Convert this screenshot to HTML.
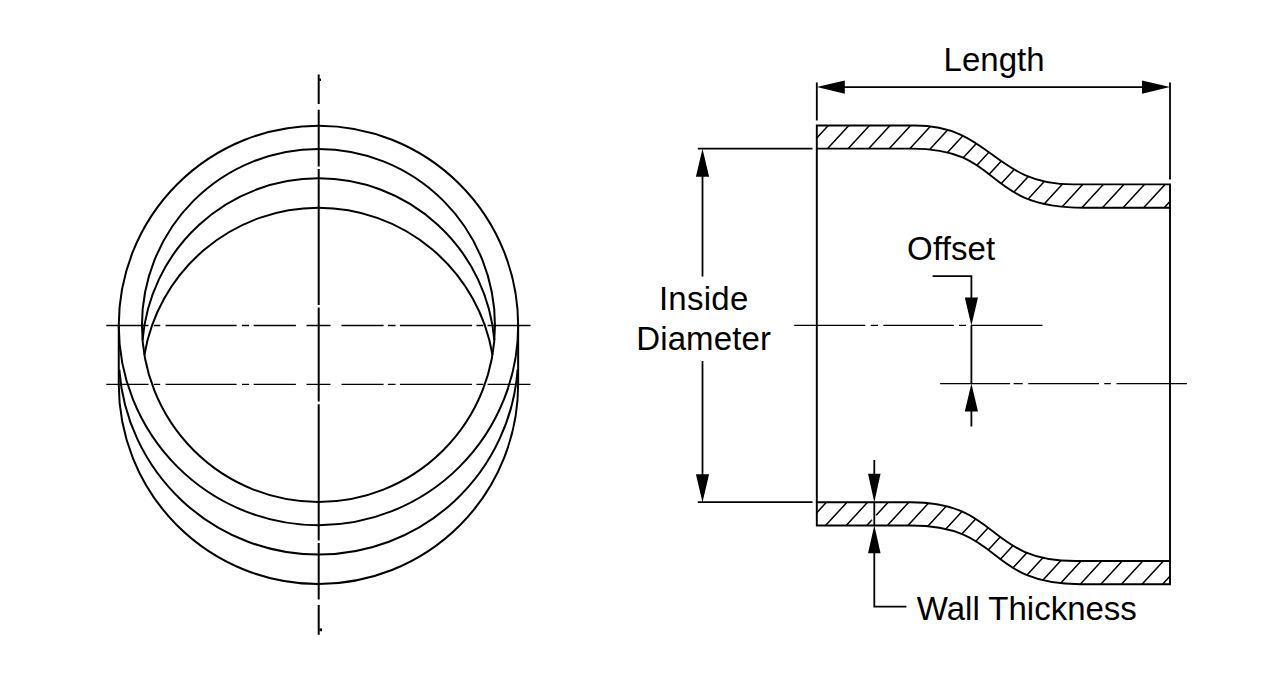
<!DOCTYPE html>
<html><head><meta charset="utf-8"><style>
html,body{margin:0;padding:0;background:#fff;}
svg{display:block;}
text{font-family:"Liberation Sans",sans-serif;}
</style></head><body>
<svg width="1280" height="680" viewBox="0 0 1280 680">
<defs><clipPath id="w0"><path d="M816.8,125.5 L914.82,125.5 C991.9300000000001,125.5 992.66,184.4 1073.02,184.4 L1170.0,184.4 L1170.0,207.7 L1084.08,207.7 C980.17,207.7 1005.38,148.67 911.61,148.67 L816.8,148.67 Z"/></clipPath><clipPath id="w1"><path d="M816.8,502.27 L911.23,502.27 C1000.78,502.27 985.36,560.97 1075.73,560.97 L1170.0,560.97 L1170.0,584.2 L1080.5,584.2 C984.16,584.2 1005.23,525.5 910.67,525.5 L816.8,525.5 Z"/></clipPath></defs>
<rect width="1280" height="680" fill="#fff"/>
<circle cx="318.45" cy="325.45" r="199.7" fill="none" stroke="#000" stroke-width="2.0"/>
<circle cx="318.45" cy="325.45" r="176.5" fill="none" stroke="#000" stroke-width="2.0"/>
<path d="M118.75,384.3 A199.7,199.7 0 0 0 518.15,384.3" fill="none" stroke="#000" stroke-width="2.0"/>
<path d="M118.75,325.45 L118.75,384.3 M518.15,325.45 L518.15,384.3" fill="none" stroke="#000" stroke-width="2.0"/>
<path d="M144.42,354.88 A176.5,176.5 0 0 1 492.48,354.88" fill="none" stroke="#000" stroke-width="2.0"/>
<path d="M142.56,340.16 A176.5,176.5 0 0 1 494.34,340.16" fill="none" stroke="#000" stroke-width="2.0"/>
<path d="M119.29,369.59 A199.7,199.7 0 0 0 517.61,369.59" fill="none" stroke="#000" stroke-width="2.0"/>
<path d="M106.3,325.5 L148.5,325.5 M153.9,325.5 L160.2,325.5 M165.6,325.5 L236.6,325.5 M242,325.5 L249.1,325.5 M253.6,325.5 L295.9,325.5 M306.5,325.5 L330.5,325.5 M341.5,325.5 L383.6,325.5 M387.9,325.5 L395.6,325.5 M399.9,325.5 L472.1,325.5 M476.4,325.5 L483.3,325.5 M487.6,325.5 L530.5,325.5" fill="none" stroke="#000" stroke-width="1.35"/>
<path d="M106.3,384.3 L148.5,384.3 M153.9,384.3 L160.2,384.3 M165.6,384.3 L236.6,384.3 M242,384.3 L249.1,384.3 M253.6,384.3 L295.9,384.3 M306.5,384.3 L330.5,384.3 M341.5,384.3 L383.6,384.3 M387.9,384.3 L395.6,384.3 M399.9,384.3 L472.1,384.3 M476.4,384.3 L483.3,384.3 M487.6,384.3 L530.5,384.3" fill="none" stroke="#000" stroke-width="1.35"/>
<path d="M318.7,74.4 L318.7,104 M318.7,109.7 L318.7,166.5 M318.7,169 L318.7,304.9 M318.7,307.5 L318.7,401.6 M318.7,404.2 L318.7,540.4 M318.7,543 L318.7,599.5 M318.7,604.9 L318.7,634.7" fill="none" stroke="#000" stroke-width="2.0"/>
<rect x="319.2" y="78.6" width="1.8" height="2.4" fill="#000"/>
<rect x="319.4" y="628.4" width="2.6" height="2.8" fill="#000"/>
<g clip-path="url(#w0)"><path d="M748.70,122.50 L667.56,210.70 M769.28,122.50 L688.14,210.70 M789.86,122.50 L708.72,210.70 M810.44,122.50 L729.30,210.70 M831.02,122.50 L749.88,210.70 M851.60,122.50 L770.46,210.70 M872.18,122.50 L791.04,210.70 M892.76,122.50 L811.62,210.70 M913.34,122.50 L832.20,210.70 M933.92,122.50 L852.78,210.70 M954.50,122.50 L873.36,210.70 M975.08,122.50 L893.94,210.70 M995.66,122.50 L914.52,210.70 M1016.24,122.50 L935.10,210.70 M1036.82,122.50 L955.68,210.70 M1057.40,122.50 L976.26,210.70 M1077.98,122.50 L996.84,210.70 M1098.56,122.50 L1017.42,210.70 M1119.14,122.50 L1038.00,210.70 M1139.72,122.50 L1058.58,210.70 M1160.30,122.50 L1079.16,210.70 M1180.88,122.50 L1099.74,210.70 M1201.46,122.50 L1120.32,210.70 M1222.04,122.50 L1140.90,210.70 M1242.62,122.50 L1161.48,210.70" fill="none" stroke="#000" stroke-width="1.5"/></g>
<path d="M816.8,125.5 L914.82,125.5 C991.9300000000001,125.5 992.66,184.4 1073.02,184.4 L1170.0,184.4 L1170.0,207.7 L1084.08,207.7 C980.17,207.7 1005.38,148.67 911.61,148.67 L816.8,148.67 Z" fill="none" stroke="#000" stroke-width="1.9" stroke-linejoin="miter"/>
<g clip-path="url(#w1)"><path d="M746.84,499.27 L665.94,587.20 M767.42,499.27 L686.52,587.20 M788.00,499.27 L707.10,587.20 M808.58,499.27 L727.68,587.20 M829.16,499.27 L748.26,587.20 M849.74,499.27 L768.84,587.20 M870.32,499.27 L789.42,587.20 M890.90,499.27 L810.00,587.20 M911.48,499.27 L830.58,587.20 M932.06,499.27 L851.16,587.20 M952.64,499.27 L871.74,587.20 M973.22,499.27 L892.32,587.20 M993.80,499.27 L912.90,587.20 M1014.38,499.27 L933.48,587.20 M1034.96,499.27 L954.06,587.20 M1055.54,499.27 L974.64,587.20 M1076.12,499.27 L995.22,587.20 M1096.70,499.27 L1015.80,587.20 M1117.28,499.27 L1036.38,587.20 M1137.86,499.27 L1056.96,587.20 M1158.44,499.27 L1077.54,587.20 M1179.02,499.27 L1098.12,587.20 M1199.60,499.27 L1118.70,587.20 M1220.18,499.27 L1139.28,587.20 M1240.76,499.27 L1159.86,587.20" fill="none" stroke="#000" stroke-width="1.5"/></g>
<path d="M816.8,502.27 L911.23,502.27 C1000.78,502.27 985.36,560.97 1075.73,560.97 L1170.0,560.97 L1170.0,584.2 L1080.5,584.2 C984.16,584.2 1005.23,525.5 910.67,525.5 L816.8,525.5 Z" fill="none" stroke="#000" stroke-width="1.9" stroke-linejoin="miter"/>
<path d="M816.8,148.67 L816.8,502.2 M1170.0,207.7 L1170.0,561.1" fill="none" stroke="#000" stroke-width="1.9"/>
<path d="M816.8,82.5 L816.8,120.6 M1170.0,82.5 L1170.0,179.4" fill="none" stroke="#000" stroke-width="1.8"/>
<path d="M836.8,87.1 L1150.0,87.1" stroke="#000" stroke-width="1.8"/>
<path d="M816.8,87.1 L844.80,80.40 L844.80,93.80 Z" fill="#000"/>
<path d="M1170.0,87.1 L1142.00,93.80 L1142.00,80.40 Z" fill="#000"/>
<path d="M697.8,148.67 L812.5,148.67 M697.8,502.2 L812.5,502.2" stroke="#000" stroke-width="1.8"/>
<path d="M702.5,168.67 L702.5,276.6 M702.5,361 L702.5,482.2" stroke="#000" stroke-width="1.8"/>
<path d="M702.5,148.67 L709.10,176.67 L695.90,176.67 Z" fill="#000"/>
<path d="M702.5,502.2 L695.90,474.20 L709.10,474.20 Z" fill="#000"/>
<path d="M794.2,325.4 L865.3,325.4 M870.8,325.4 L878,325.4 M883.3,325.4 L953.9,325.4 M959,325.4 L966,325.4 M970.8,325.4 L1042.5,325.4" fill="none" stroke="#000" stroke-width="1.35"/>
<path d="M940.1,383.6 L1010.1,383.6 M1013.6,383.6 L1022.8,383.6 M1028.3,383.6 L1099,383.6 M1104.2,383.6 L1110.8,383.6 M1116.5,383.6 L1186.9,383.6" fill="none" stroke="#000" stroke-width="1.35"/>
<path d="M932.6,276.1 L971.4,276.1 L971.4,315.4 M971.4,325.4 L971.4,383.6 M971.4,393.6 L971.4,426.5" fill="none" stroke="#000" stroke-width="1.8"/>
<path d="M971.4,325.4 L964.80,297.40 L978.00,297.40 Z" fill="#000"/>
<path d="M971.4,383.6 L978.00,411.60 L964.80,411.60 Z" fill="#000"/>
<rect x="871.6" y="515.2" width="5" height="5.2" fill="#fff"/>
<path d="M874.3,460 L874.3,492.2 M874.3,535.37 L874.3,606.7 L906.4,606.7" fill="none" stroke="#000" stroke-width="1.8"/>
<line x1="874.3" y1="502.2" x2="874.3" y2="525.37" stroke="#000" stroke-width="1.8"/>
<path d="M874.3,502.2 L868.05,473.80 L880.55,473.80 Z" fill="#000"/>
<path d="M874.3,525.37 L880.55,553.37 L868.05,553.37 Z" fill="#000"/>
<g font-family="Liberation Sans, sans-serif" font-size="33" fill="#000">
<text x="943.6" y="71">Length</text>
<text x="658.9" y="309.9" letter-spacing="0.27">Inside</text>
<text x="636.2" y="350.1" letter-spacing="0.14">Diameter</text>
<text x="907.1" y="260.1" letter-spacing="0.15">Offset</text>
<text x="916.8" y="619.6">Wall Thickness</text>
</g>
</svg></body></html>
